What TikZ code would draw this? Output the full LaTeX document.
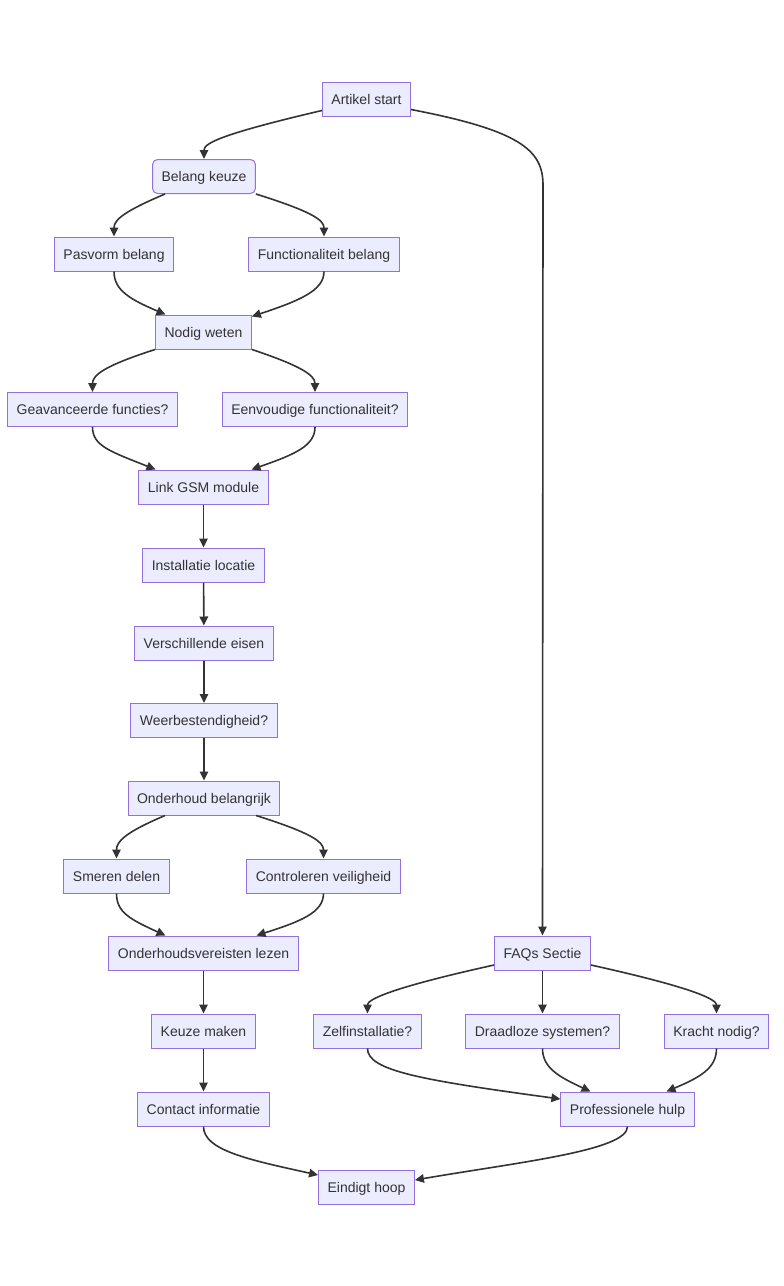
\documentclass[tikz,border=0pt]{standalone}
\usepackage{fontspec}
\setmainfont{Liberation Sans}
\usetikzlibrary{arrows.meta,calc}
\definecolor{nfill}{HTML}{ECECFF}
\definecolor{nstroke}{HTML}{9370DB}
\definecolor{ntext}{HTML}{333333}
\definecolor{eline}{HTML}{333333}
\tikzset{
  box/.style={draw=nstroke,fill=nfill,text=ntext,line width=1pt,minimum height=34pt,inner xsep=9pt,inner ysep=0pt,text height=12pt,text depth=2pt,font=\fontsize{14pt}{16pt}\selectfont},
  rbox/.style={box,rounded corners=5pt},
  conn/.style={draw=eline,line width=1.6pt,-{Triangle[length=9pt,width=8.5pt]}},
}
\begin{document}
\begin{tikzpicture}[x=1pt,y=1pt]
\useasboundingbox (0,0) rectangle (784,-1286);
\node[box] (art) at (366.5,-99) {Artikel start};
\node[rbox] (bel) at (204,-176.5) {Belang keuze};
\node[box] (pas) at (114,-254) {Pasvorm belang};
\node[box] (fun) at (324,-254) {Functionaliteit belang};
\node[box] (nod) at (203.5,-332) {Nodig weten};
\node[box] (gea) at (92.5,-409.5) {Geavanceerde functies?};
\node[box] (een) at (315,-409.5) {Eenvoudige functionaliteit?};
\node[box] (gsm) at (203.5,-487) {Link GSM module};
\node[box] (ins) at (203.5,-565) {Installatie locatie};
\node[box] (ver) at (204,-643) {Verschillende eisen};
\node[box] (wee) at (204,-720.5) {Weerbestendigheid?};
\node[box] (ond) at (204,-798) {Onderhoud belangrijk};
\node[box] (sme) at (116.5,-876) {Smeren delen};
\node[box] (con) at (323.5,-876) {Controleren veiligheid};
\node[box] (olz) at (203.5,-953) {Onderhoudsvereisten lezen};
\node[box] (keu) at (203.5,-1031) {Keuze maken};
\node[box] (cin) at (203.5,-1109) {Contact informatie};
\node[box] (ein) at (366.5,-1187) {Eindigt hoop};
\node[box] (faq) at (542.5,-953) {FAQs Sectie};
\node[box] (zel) at (367.5,-1031) {Zelfinstallatie?};
\node[box] (dra) at (542.5,-1031) {Draadloze systemen?};
\node[box] (kra) at (716.5,-1031) {Kracht nodig?};
\node[box] (pro) at (627.5,-1109) {Professionele hulp};

\coordinate (bend) at (543,-185);
% top
\draw[conn] ($(art.south west)+(0,6)$) .. controls +(-107,-25) and +(0,15) .. (bel.north);
\draw[conn] ($(art.south east)+(0,7)$) .. controls +(109,-21) and +(0,35) .. (bend) -- (faq.north);
\draw[conn] ($(bel.south)+(-39,0)$) .. controls +(-40,-17) and +(0,17) .. (pas.north);
\draw[conn] (bel.south east) .. controls +(54,-17) and +(0,17) .. (fun.north);
\draw[conn] (pas.south) .. controls +(0,-19) and +(-35,15) .. ($(nod.north)+(-38,0)$);
\draw[conn] (fun.south) .. controls +(0,-19) and +(48,16) .. ($(nod.north east)+(0,-2)$);
\draw[conn] (nod.south west) .. controls +(-50,-16) and +(0,17) .. (gea.north);
\draw[conn] (nod.south east) .. controls +(48,-16) and +(0,17) .. (een.north);
\draw[conn] (gea.south) .. controls +(0,-19) and +(-45,18) .. ($(gsm.north)+(-48,0)$);
\draw[conn] (een.south) .. controls +(0,-19) and +(43,15) .. ($(gsm.north)+(48,0)$);
\draw[conn] (gsm) -- (ins);
\draw[conn] (ins) -- (ver);
\draw[conn] (ver) -- (wee);
\draw[conn] (wee) -- (ond);
\draw[conn] ($(ond.south)+(-39,0)$) .. controls +(-40,-17) and +(0,17) .. (sme.north);
\draw[conn] ($(ond.south)+(52,0)$) .. controls +(54,-17) and +(0,17) .. (con.north);
\draw[conn] (sme.south) .. controls +(0,-19) and +(-35,16) .. ($(olz.north)+(-38,0)$);
\draw[conn] (con.south) .. controls +(0,-19) and +(44,14) .. ($(olz.north)+(53,0)$);
\draw[conn] (olz) -- (keu);
\draw[conn] (keu) -- (cin);
\draw[conn] (cin.south) .. controls +(0,-24) and +(-68,15) .. ($(ein.west)+(0,12)$);
% FAQ
\draw[conn] ($(faq.west)+(0,-12)$) .. controls +(-104,-23) and +(0,14) .. (zel.north);
\draw[conn] (faq) -- (dra);
\draw[conn] ($(faq.east)+(0,-12)$) .. controls +(104,-23) and +(0,14) .. (kra.north);
\draw[conn] (zel.south) .. controls +(0,-22) and +(-140,19) .. ($(pro.west)+(0,10)$);
\draw[conn] (dra.south) .. controls +(0,-20) and +(-30,14) .. ($(pro.north)+(-37,0)$);
\draw[conn] (kra.south) .. controls +(0,-20) and +(33,14) .. ($(pro.north)+(39,0)$);
\draw[conn] (pro.south) .. controls +(0,-24) and +(105,18) .. ($(ein.east)+(0,7)$);
\end{tikzpicture}
\end{document}
